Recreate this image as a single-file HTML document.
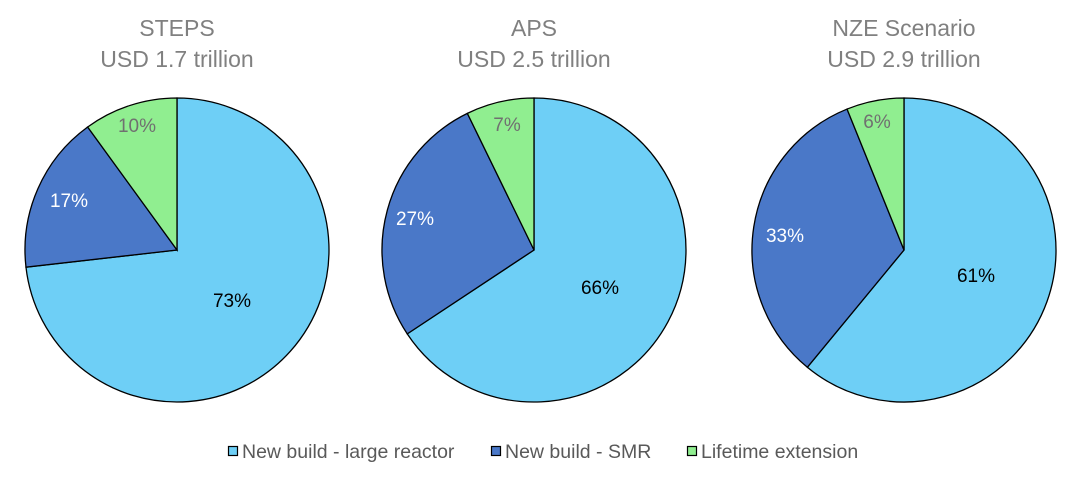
<!DOCTYPE html>
<html><head><meta charset="utf-8"><style>
body{margin:0;background:#fff;}
svg{display:block;font-family:"Liberation Sans",Arial,sans-serif;}
</style></head><body>
<svg id="s" width="1080" height="479" viewBox="0 0 1080 479">
<g font-size="23" fill="#808080" text-anchor="middle">
<text x="177" y="36">STEPS</text><text x="177" y="67">USD 1.7 trillion</text>
<text x="534" y="36">APS</text><text x="534" y="67">USD 2.5 trillion</text>
<text x="904" y="36">NZE Scenario</text><text x="904" y="67">USD 2.9 trillion</text>
</g>
<g id="pies"></g>
<g font-size="19.5" fill="#595959">
<rect x="228.5" y="446.5" width="9" height="9" fill="#6ecff6" stroke="#000" stroke-width="1.2"/>
<text x="242" y="458">New build - large reactor</text>
<rect x="491.5" y="446.5" width="9" height="9" fill="#4a78c8" stroke="#000" stroke-width="1.2"/>
<text x="505" y="458">New build - SMR</text>
<rect x="687.5" y="446.5" width="9" height="9" fill="#90ee90" stroke="#000" stroke-width="1.2"/>
<text x="701" y="458">Lifetime extension</text>
</g>
</svg>
<script>
var pies=[{cx:177,v:[73,17,10],a:[263.5,324],l:[[232,307],[69,207],[137,132]]},
{cx:534,v:[66,27,7],a:[236.5,334],l:[[600,294],[415,225],[507,131]]},
{cx:904,v:[61,33,6],a:[219.5,338],l:[[976,282],[785,242],[877,128]]}];
var cols=["#6ecff6","#4a78c8","#90ee90"],tc=["#000","#fff","#707070"];
var cy=250,r=152,h="";
function pt(cx,a){a=a*Math.PI/180;return [cx+r*Math.sin(a),cy-r*Math.cos(a)];}
pies.forEach(function(p){var bs=[0,p.a[0],p.a[1],360];
for(var i=0;i<3;i++){var a=bs[i],b=bs[i+1],s=pt(p.cx,a),e=pt(p.cx,b);
h+='<path d="M'+p.cx+','+cy+'L'+s[0]+','+s[1]+'A'+r+','+r+' 0 '+(b-a>180?1:0)+' 1 '+e[0]+','+e[1]+'Z" fill="'+cols[i]+'" stroke="#000" stroke-width="1.3"/>';}
p.v.forEach(function(v,i){h+='<text x="'+p.l[i][0]+'" y="'+p.l[i][1]+'" font-size="19" text-anchor="middle" fill="'+tc[i]+'">'+v+'%</text>';});
});
document.getElementById("pies").innerHTML=h;
</script>
</body></html>
